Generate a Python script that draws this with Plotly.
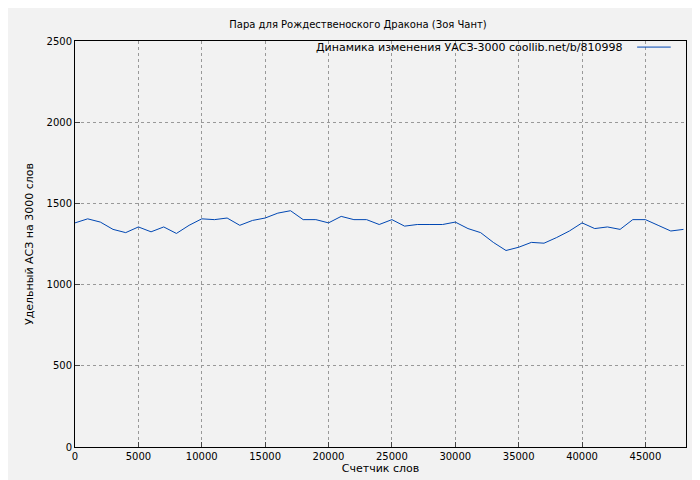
import plotly.graph_objects as go

x_words = list(range(0, 49000, 1000))
y_vals = [1380, 1405, 1385, 1340, 1320, 1355, 1325, 1355, 1315, 1365,
          1405, 1400, 1410, 1365, 1395, 1410, 1440, 1455, 1400, 1400,
          1380, 1420, 1400, 1400, 1370, 1400, 1360, 1370, 1370, 1370,
          1385, 1345, 1320, 1260, 1210, 1230, 1260, 1255, 1290, 1330,
          1380, 1345, 1355, 1340, 1400, 1400, 1365, 1330, 1340]
x_ticks = list(range(0, 50000, 5000))
y_ticks = list(range(0, 3000, 500))
legend_text = "Динамика изменения УАСЗ-3000 coollib.net/b/810998"

fig = go.Figure()
fig.add_trace(go.Scatter(x=x_words, y=y_vals, mode="lines",
                         line=dict(color="#0047b3", width=1), showlegend=False))
fig.add_annotation(xref="paper", yref="paper", x=0.9, y=0.985, xanchor="right",
                   yanchor="middle", showarrow=False, text=legend_text,
                   font=dict(size=11))
fig.add_shape(type="line", xref="paper", yref="paper", x0=0.92, x1=0.975,
              y0=0.985, y1=0.985, line=dict(color="#0047b3", width=1))
fig.update_layout(
    width=700, height=480,
    paper_bgcolor="#f2f2f2", plot_bgcolor="#f2f2f2",
    margin=dict(l=67, r=22, t=33, b=41),
    font=dict(family="DejaVu Sans", size=10, color="black"),
    title=dict(text="Пара для Рождественоского Дракона (Зоя Чант)", x=0.5, y=0.965,
               xanchor="center", yanchor="middle", font=dict(size=10)),
    xaxis=dict(range=[0, 48200], tickvals=x_ticks, tickformat="d", showgrid=True,
               gridcolor="#999999", griddash="dot", gridwidth=1, automargin=False,
               showline=True, linecolor="black", mirror=True, ticks="inside",
               ticklen=5, zeroline=False,
               title=dict(text="Счетчик слов", standoff=2, font=dict(size=11))),
    yaxis=dict(range=[0, 2500], tickvals=y_ticks, tickformat="d", showgrid=True,
               gridcolor="#999999", griddash="dot", gridwidth=1, automargin=False,
               showline=True, linecolor="black", mirror=True, ticks="inside",
               ticklen=5, zeroline=False,
               title=dict(text="Удельный АСЗ на 3000 слов", standoff=10, font=dict(size=11))),
)
fig.write_html("out.html")
